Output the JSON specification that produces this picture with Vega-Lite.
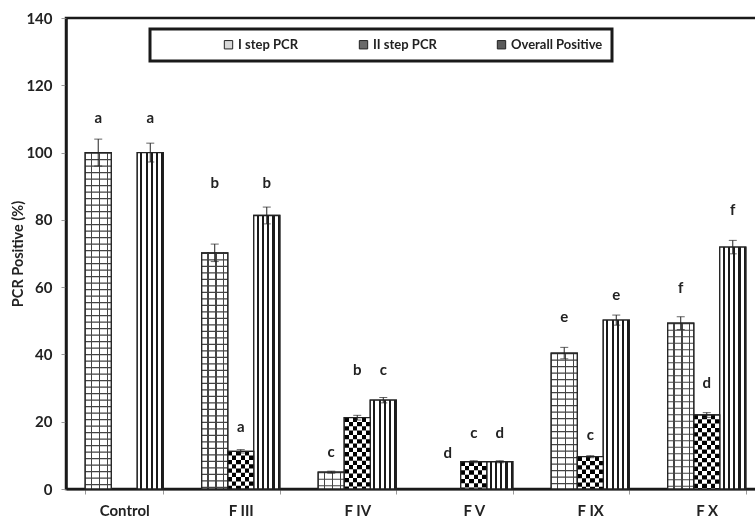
{
  "$schema": "https://vega.github.io/schema/vega-lite/v6.json",
  "autosize": {"type": "none"},
  "padding": {"left": 66, "top": 18, "right": 0, "bottom": 29},
  "width": 699,
  "height": 471,
  "config": {
    "font": "Lato",
    "view": {"stroke": "#1a1a1a", "strokeWidth": 2.5},
    "legend": {
      "orient": "none",
      "legendX": 84,
      "legendY": 11,
      "direction": "horizontal",
      "strokeColor": "#1a1a1a",
      "strokeWidth": 3,
      "padding": 9,
      "symbolType": "square",
      "symbolSize": 70,
      "symbolStrokeColor": "#222",
      "symbolStrokeWidth": 1,
      "labelFont": "Lato",
      "labelFontSize": 13,
      "labelFontWeight": "bold",
      "labelColor": "#222",
      "labelOffset": 3,
      "columnPadding": 58,
      "titleOrient": "left",
      "titlePadding": 63,
      "titleFontSize": 13,
      "fillColor": "white"
    }
  },
  "data": {
    "values": [
      {"cat": "Control", "series": "I step PCR", "value": 100, "lo": 96, "hi": 104, "letter": "a", "lp": 110.3},
      {"cat": "Control", "series": "Overall Positive", "value": 100, "lo": 97.2, "hi": 102.8, "letter": "a", "lp": 110.3},
      {"cat": "F III", "series": "I step PCR", "value": 70.2, "lo": 67.6, "hi": 72.8, "letter": "b", "lp": 91},
      {"cat": "F III", "series": "II step PCR", "value": 11.2, "lo": 10.7, "hi": 11.7, "letter": "a", "lp": 18.4},
      {"cat": "F III", "series": "Overall Positive", "value": 81.3, "lo": 78.8, "hi": 83.8, "letter": "b", "lp": 91},
      {"cat": "F IV", "series": "I step PCR", "value": 5, "lo": 4.7, "hi": 5.3, "letter": "c", "lp": 11},
      {"cat": "F IV", "series": "II step PCR", "value": 21.2, "lo": 20.5, "hi": 21.9, "letter": "b", "lp": 35.4},
      {"cat": "F IV", "series": "Overall Positive", "value": 26.4, "lo": 25.6, "hi": 27.2, "letter": "c", "lp": 35.4},
      {"cat": "F V", "series": "I step PCR", "value": null, "lo": null, "hi": null, "letter": "d", "lp": 10.7},
      {"cat": "F V", "series": "II step PCR", "value": 8.1, "lo": 7.8, "hi": 8.4, "letter": "c", "lp": 16.6},
      {"cat": "F V", "series": "Overall Positive", "value": 8.1, "lo": 7.8, "hi": 8.4, "letter": "d", "lp": 16.6},
      {"cat": "F IX", "series": "I step PCR", "value": 40.4, "lo": 38.7, "hi": 42.1, "letter": "e", "lp": 51},
      {"cat": "F IX", "series": "II step PCR", "value": 9.6, "lo": 9.3, "hi": 9.9, "letter": "c", "lp": 16},
      {"cat": "F IX", "series": "Overall Positive", "value": 50.2, "lo": 48.7, "hi": 51.7, "letter": "e", "lp": 57.7},
      {"cat": "F X", "series": "I step PCR", "value": 49.3, "lo": 47.4, "hi": 51.2, "letter": "f", "lp": 59.7},
      {"cat": "F X", "series": "II step PCR", "value": 22, "lo": 21.3, "hi": 22.7, "letter": "d", "lp": 31.5},
      {"cat": "F X", "series": "Overall Positive", "value": 71.9, "lo": 69.9, "hi": 73.9, "letter": "f", "lp": 83}
    ]
  },
  "encoding": {
    "x": {
      "field": "cat",
      "type": "nominal",
      "sort": ["Control", "F III", "F IV", "F V", "F IX", "F X"],
      "scale": {"paddingInner": 0.33, "paddingOuter": 0.165},
      "title": null,
      "axis": {
        "labelAngle": 0,
        "labelFont": "Lato",
        "labelFontSize": 15,
        "labelFontWeight": "bold",
        "labelColor": "#222",
        "labelPadding": 9,
        "tickBand": "extent",
        "tickColor": "#999",
        "tickSize": 5,
        "domainColor": "#1a1a1a",
        "domainWidth": 2
      }
    },
    "xOffset": {
      "field": "series",
      "type": "nominal",
      "sort": ["I step PCR", "II step PCR", "Overall Positive"]
    }
  },
  "layer": [
    {
      "mark": {"type": "bar", "stroke": "#222", "strokeWidth": 1.3},
      "encoding": {
        "y": {
          "field": "value",
          "type": "quantitative",
          "title": "PCR Positive (%)",
          "scale": {"domain": [0, 140]},
          "axis": {
            "values": [0, 20, 40, 60, 80, 100, 120, 140],
            "grid": false,
            "labelFont": "Lato",
            "labelFontSize": 15,
            "labelFontWeight": "bold",
            "labelColor": "#222",
            "labelPadding": 9,
            "tickColor": "#999",
            "tickSize": 5,
            "domainColor": "#1a1a1a",
            "domainWidth": 2.5,
            "titleFont": "Lato",
            "titleFontSize": 14.5,
            "titleFontWeight": "bold",
            "titleColor": "#222",
            "titlePadding": 0
          }
        },
        "fill": {
          "field": "series",
          "type": "nominal",
          "sort": ["I step PCR", "II step PCR", "Overall Positive"],
          "scale": {"range": ["#d8d8d8", "#6a6a6a", "#5a5a5a"]},
          "legend": {
            "title": "\u00a0",
            "labelExpr": "datum.label === 'Overall Positive' ? datum.label + '\u00a0\u00a0\u00a0\u00a0\u00a0\u00a0\u00a0\u00a0\u00a0\u00a0\u00a0\u00a0\u00a0\u00a0\u00a0\u00a0\u00a0\u00a0\u00a0\u00a0\u00a0\u00a0\u00a0\u00a0\u00a0\u00a0\u00a0\u00a0\u00a0\u00a0\u00a0\u00a0' : datum.label"
          }
        }
      }
    },
    {
      "transform": [{"filter": "datum.series === 'I step PCR'"}],
      "mark": {
        "type": "bar",
        "strokeWidth": 0,
        "fill": {
          "gradient": "linear",
          "x1": 0, "y1": 0, "x2": 1, "y2": 0,
          "stops": [
            {"offset": 0, "color": "white"}, {"offset": 0.22, "color": "white"}, {"offset": 0.22, "color": "#444"}, {"offset": 0.27, "color": "#444"},
            {"offset": 0.27, "color": "white"}, {"offset": 0.52, "color": "white"}, {"offset": 0.52, "color": "#444"}, {"offset": 0.57, "color": "#444"},
            {"offset": 0.57, "color": "white"}, {"offset": 0.82, "color": "white"}, {"offset": 0.82, "color": "#444"}, {"offset": 0.87, "color": "#444"},
            {"offset": 0.87, "color": "white"}, {"offset": 1, "color": "white"}
          ]
        }
      },
      "encoding": {
        "y": {"field": "value", "type": "quantitative", "title": "PCR Positive (%)"}
      }
    },
    {
      "transform": [{"filter": "datum.series === 'I step PCR'"}],
      "mark": {
        "type": "rule",
        "color": "#444",
        "strokeWidth": 26,
        "strokeDash": [1.1, 5.4]
      },
      "encoding": {
        "y": {"field": "value", "type": "quantitative", "title": "PCR Positive (%)"},
        "y2": {"datum": 0}
      }
    },
    {
      "transform": [{"filter": "datum.series === 'Overall Positive'"}],
      "mark": {
        "type": "bar",
        "stroke": "#222",
        "strokeWidth": 1.3,
        "fill": {
          "gradient": "linear",
          "x1": 0, "y1": 0, "x2": 1, "y2": 0,
          "stops": [
            {"offset": 0, "color": "white"}, {"offset": 0.12, "color": "white"}, {"offset": 0.12, "color": "#1a1a1a"}, {"offset": 0.2, "color": "#1a1a1a"},
            {"offset": 0.2, "color": "white"}, {"offset": 0.32, "color": "white"}, {"offset": 0.32, "color": "#1a1a1a"}, {"offset": 0.4, "color": "#1a1a1a"},
            {"offset": 0.4, "color": "white"}, {"offset": 0.52, "color": "white"}, {"offset": 0.52, "color": "#1a1a1a"}, {"offset": 0.6, "color": "#1a1a1a"},
            {"offset": 0.6, "color": "white"}, {"offset": 0.72, "color": "white"}, {"offset": 0.72, "color": "#1a1a1a"}, {"offset": 0.8, "color": "#1a1a1a"},
            {"offset": 0.8, "color": "white"}, {"offset": 0.92, "color": "white"}, {"offset": 0.92, "color": "#1a1a1a"}, {"offset": 1, "color": "#1a1a1a"}
          ]
        }
      },
      "encoding": {
        "y": {"field": "value", "type": "quantitative", "title": "PCR Positive (%)"}
      }
    },
    {
      "transform": [{"filter": "datum.series === 'II step PCR'"}],
      "mark": {
        "type": "bar",
        "strokeWidth": 0,
        "fill": {
          "gradient": "linear",
          "x1": 0, "y1": 0, "x2": 1, "y2": 0,
          "stops": [
            {"offset": 0, "color": "white"}, {"offset": 0.1667, "color": "white"}, {"offset": 0.1667, "color": "black"}, {"offset": 0.3333, "color": "black"},
            {"offset": 0.3333, "color": "white"}, {"offset": 0.5, "color": "white"}, {"offset": 0.5, "color": "black"}, {"offset": 0.6667, "color": "black"},
            {"offset": 0.6667, "color": "white"}, {"offset": 0.8333, "color": "white"}, {"offset": 0.8333, "color": "black"}, {"offset": 1, "color": "black"}
          ]
        }
      },
      "encoding": {
        "y": {"field": "value", "type": "quantitative", "title": "PCR Positive (%)"}
      }
    },
    {
      "transform": [{"filter": "datum.series === 'II step PCR'"}],
      "mark": {
        "type": "rule",
        "color": "white",
        "strokeWidth": 26,
        "strokeDash": [4.3, 4.3],
        "blend": "difference"
      },
      "encoding": {
        "y": {"field": "value", "type": "quantitative", "title": "PCR Positive (%)"},
        "y2": {"datum": 0}
      }
    },
    {
      "transform": [{"filter": "datum.series !== 'Overall Positive'"}],
      "mark": {"type": "bar", "fillOpacity": 0, "stroke": "#222", "strokeWidth": 1.3},
      "encoding": {
        "y": {"field": "value", "type": "quantitative", "title": "PCR Positive (%)"}
      }
    },
    {
      "mark": {"type": "rule", "color": "#222", "strokeWidth": 1},
      "encoding": {
        "y": {"field": "lo", "type": "quantitative", "title": "PCR Positive (%)"},
        "y2": {"field": "hi"}
      }
    },
    {
      "mark": {"type": "tick", "color": "#222", "thickness": 1, "size": 8},
      "encoding": {
        "y": {"field": "hi", "type": "quantitative", "title": "PCR Positive (%)"}
      }
    },
    {
      "mark": {"type": "tick", "color": "#222", "thickness": 1, "size": 8},
      "encoding": {
        "y": {"field": "lo", "type": "quantitative", "title": "PCR Positive (%)"}
      }
    },
    {
      "mark": {"type": "text", "font": "Lato", "fontSize": 15, "fontWeight": "bold", "color": "#222", "baseline": "middle"},
      "encoding": {
        "y": {"field": "lp", "type": "quantitative", "title": "PCR Positive (%)"},
        "text": {"field": "letter"}
      }
    }
  ]
}
